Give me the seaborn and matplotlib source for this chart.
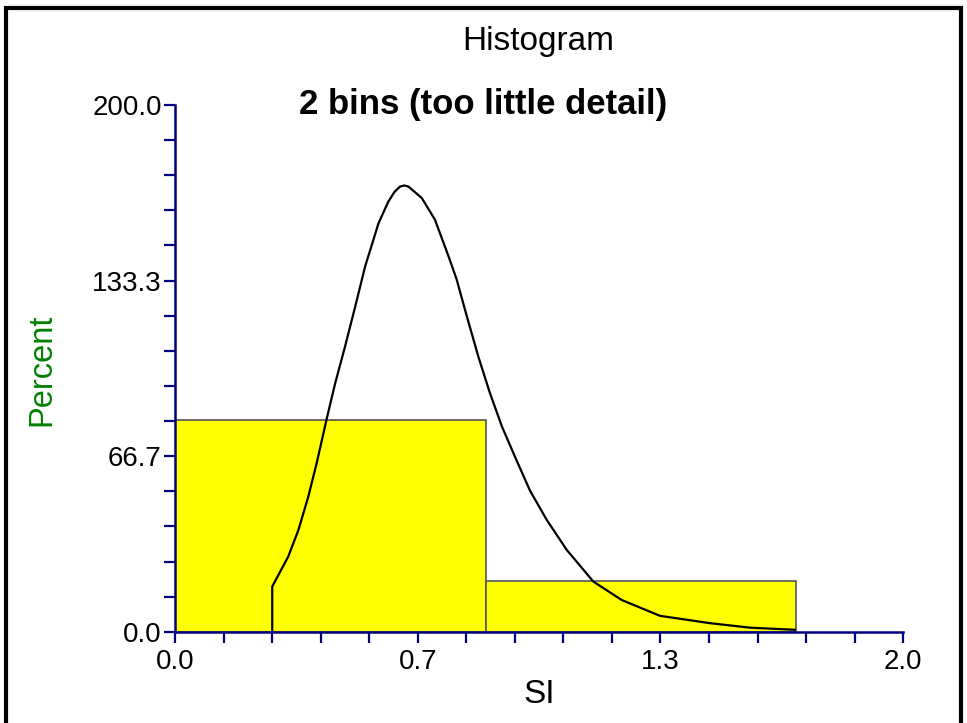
import numpy as np
import matplotlib
matplotlib.use("Agg")
import matplotlib.pyplot as plt
import seaborn as sns
from matplotlib.patches import Rectangle
from matplotlib.ticker import FixedLocator, MultipleLocator

# histogram: 2 bins, percent per bin
bin_edges = [0.0, 0.853, 1.705]
bin_pct = [80.5, 19.5]

# fitted density curve
curve_x = [0.267, 0.267, 0.311, 0.339, 0.366, 0.389, 0.417, 0.440, 0.467, 0.495,
           0.522, 0.559, 0.586, 0.603, 0.618, 0.630, 0.641, 0.678, 0.714, 0.751,
           0.773, 0.801, 0.833, 0.865, 0.898, 0.939, 0.975, 1.021, 1.076, 1.149,
           1.227, 1.332, 1.470, 1.580, 1.703]
curve_y = [0.0, 17.2, 28.6, 38.7, 51.3, 64.0, 81.1, 94.4, 108.3, 123.5,
           138.6, 155.1, 163.3, 167.0, 169.0, 169.4, 169.0, 164.6, 156.4, 142.6,
           134.0, 120.0, 104.5, 90.6, 77.9, 64.8, 53.6, 42.5, 31.1, 19.1,
           12.1, 6.1, 3.3, 1.6, 0.8]

x_tick_labels = ["0.0", "0.7", "1.3", "2.0"]
y_tick_labels = ["0.0", "66.7", "133.3", "200.0"]

sns.set_style("white")
plt.rcParams["font.family"] = ["Liberation Sans", "DejaVu Sans"]
plt.rcParams["text.color"] = "black"

navy = "#000080"
fig = plt.figure(figsize=(9.67, 7.23), dpi=100)
ax = fig.add_axes([0.181, 0.126, 0.753, 0.729])

centers = [(bin_edges[i] + bin_edges[i + 1]) / 2 for i in range(len(bin_pct))]
sns.histplot(x=centers, weights=bin_pct, bins=bin_edges, stat="count",
             color="#ffff00", edgecolor="#555555", linewidth=1.2, alpha=1, ax=ax)
sns.lineplot(x=curve_x, y=curve_y, sort=False, estimator=None,
             color="black", linewidth=1.6, ax=ax)

ax.set_xlim(0, 2.0)
ax.set_ylim(0, 200)
ax.xaxis.set_major_locator(FixedLocator([0, 2 / 3, 4 / 3, 2.0]))
ax.set_xticklabels(x_tick_labels)
ax.xaxis.set_minor_locator(MultipleLocator(2 / 15))
ax.yaxis.set_major_locator(FixedLocator([0, 200 / 3, 400 / 3, 200]))
ax.set_yticklabels(y_tick_labels)
ax.yaxis.set_minor_locator(MultipleLocator(200 / 15))
ax.set_xlabel("")
ax.set_ylabel("")

ax.tick_params(which="both", direction="out", length=8, width=1.6, color=navy,
               labelsize=20, labelcolor="black")
ax.tick_params(axis="y", which="both", left=True, pad=1.5)
ax.tick_params(axis="x", which="both", bottom=True, pad=4)
for s in ["top", "right"]:
    ax.spines[s].set_visible(False)
for s in ["left", "bottom"]:
    ax.spines[s].set_color(navy)
    ax.spines[s].set_linewidth(1.8)

fig.text(0.557, 0.942, "Histogram", ha="center", va="center", fontsize=24)
fig.text(0.5, 0.855, "2 bins (too little detail)", ha="center", va="center",
         fontsize=25, fontweight="bold")
fig.text(0.558, 0.039, "SI", ha="center", va="center", fontsize=24)
fig.text(0.043, 0.488, "Percent", ha="center", va="center", fontsize=23.5,
         rotation=90, color="#008000")

fig.patches.append(Rectangle((0.006, -0.05), 0.988, 1.039, transform=fig.transFigure,
                             fill=False, edgecolor="black", linewidth=3))

fig.savefig("out.png", dpi=100)
